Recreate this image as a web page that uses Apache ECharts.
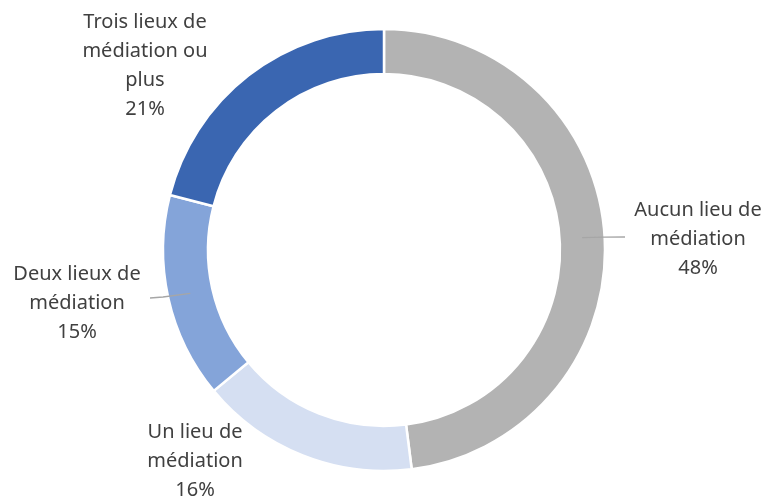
<!DOCTYPE html>
<html>
<head>
<meta charset="utf-8">
<script src="https://cdn.jsdelivr.net/npm/echarts@6/dist/echarts.min.js"></script>
<style>html,body{margin:0;padding:0;background:#fff}#c{width:767px;height:499px}</style>
</head>
<body>
<div id="c"></div>
<script>
var categories = ["Aucun lieu de\nmédiation", "Un lieu de\nmédiation", "Deux lieux de\nmédiation", "Trois lieux de\nmédiation ou\nplus"];
var values = [48, 16, 15, 21];
var colors = ["#B3B3B3", "#D5DFF2", "#84A4D9", "#3A66B1"];

var cx = 384, cy = 250, rOut = 221, rIn = 176;
// label block centres (layout only)
var labelPos = [[698, 239], [195, 461], [77, 303], [145, 66]];
var showLine = [true, false, true, false];

var total = values.reduce(function(a, b){ return a + b; }, 0);
function midAngle(i){
  var s = 0;
  for (var k = 0; k < i; k++) s += values[k];
  return (s + values[i] / 2) / total * 2 * Math.PI;
}

var chart = echarts.init(document.getElementById('c'), null, {renderer: 'canvas'});
chart.setOption({
  animation: false,
  series: [{
    type: 'pie',
    z: 2,
    center: [cx, cy],
    radius: [rIn, rOut],
    startAngle: 90,
    clockwise: true,
    silent: true,
    data: categories.map(function(c, i){
      return {name: c, value: values[i], itemStyle: {color: colors[i]}};
    }),
    itemStyle: {borderColor: '#fff', borderWidth: 2.5},
    label: {show: false},
    labelLine: {show: false}
  }, {
    type: 'pie',
    z: 5,
    center: [cx, cy],
    radius: [rIn, rOut],
    startAngle: 90,
    clockwise: true,
    silent: true,
    data: categories.map(function(c, i){
      return {name: c, value: values[i], labelLine: {show: showLine[i]}};
    }),
    itemStyle: {color: 'rgba(0,0,0,0)', borderWidth: 0},
    label: {
      show: true,
      position: 'outside',
      overflow: 'none',
      formatter: function(p){ return p.name + '\n' + p.value + '%'; },
      fontFamily: 'Noto Sans',
      fontSize: 20,
      lineHeight: 29,
      color: '#404040',
      align: 'center'
    },
    labelLine: {show: true, lineStyle: {color: '#A6A6A6', width: 1.3}},
    labelLayout: function(p){
      var i = p.dataIndex;
      var a = midAngle(i);
      var rm = (rIn + rOut) / 2;
      var sx = cx + rm * Math.sin(a), sy = cy - rm * Math.cos(a);
      var lx = labelPos[i][0], ly = labelPos[i][1];
      var pts;
      if (i === 0) pts = [[sx, sy], [sx + 22, sy - 0.5], [lx - 73, ly - 2]];
      else pts = [[sx, sy], [lx + 86, ly - 6], [lx + 73, ly - 5]];
      return {x: lx, y: ly, align: 'center', verticalAlign: 'middle', labelLinePoints: pts};
    }
  }]
});
</script>
</body>
</html>
